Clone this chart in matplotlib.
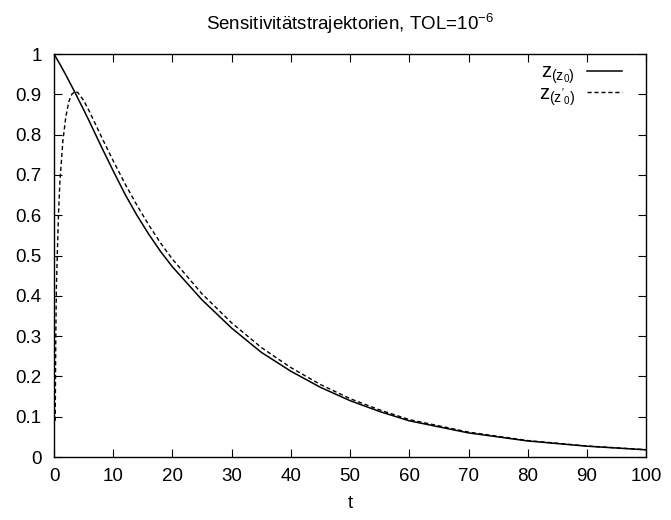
import matplotlib
matplotlib.use('Agg')
import matplotlib.pyplot as plt

plt.rcParams['font.family'] = ['Liberation Sans', 'DejaVu Sans']
plt.rcParams['mathtext.fontset'] = 'custom'
plt.rcParams['mathtext.rm'] = 'Liberation Sans'
plt.rcParams['mathtext.it'] = 'Liberation Sans'
plt.rcParams['mathtext.sf'] = 'Liberation Sans'

# sensitivity w.r.t. z0 (solid)
t_z0 = [0, 1, 2, 3, 3.5, 4, 5, 6, 8, 10, 12, 14, 16, 18, 20,
        25, 30, 35, 40, 45, 50, 55, 60, 70, 80, 90, 100]
s_z0 = [1.0, 0.975, 0.948, 0.92, 0.906, 0.891, 0.862, 0.832, 0.77, 0.71,
        0.652, 0.60, 0.553, 0.51, 0.472,
        0.39, 0.32, 0.26, 0.213, 0.173, 0.14, 0.113, 0.09, 0.06, 0.04, 0.027, 0.018]

# sensitivity w.r.t. z'0 (dashed)
t_dz0 = [0.2, 0.3, 0.4, 0.55, 0.75, 1.0, 1.5, 2.0, 2.5, 3.0, 3.5, 4.0, 5, 6, 8,
         10, 12, 14, 16, 18, 20, 25, 30, 35, 40, 45, 50, 55, 60, 70, 80, 90, 100]
s_dz0 = [0.09, 0.3, 0.42, 0.5, 0.6, 0.685, 0.785, 0.845, 0.882, 0.9, 0.907,
         0.905, 0.885, 0.857, 0.795, 0.735, 0.678, 0.625, 0.576, 0.531, 0.491,
         0.405, 0.333, 0.272, 0.222, 0.18, 0.145, 0.117, 0.093, 0.062, 0.041,
         0.0275, 0.0183]

xticks = list(range(0, 101, 10))
yticks = [0, 0.1, 0.2, 0.3, 0.4, 0.5, 0.6, 0.7, 0.8, 0.9, 1]
ytick_labels = ['0', '0.1', '0.2', '0.3', '0.4', '0.5', '0.6', '0.7', '0.8', '0.9', '1']

fig = plt.figure(figsize=(6.71, 5.2), dpi=100)
ax = fig.add_axes([0.0805, 0.121, 0.8825, 0.775])

ax.plot(t_z0, s_z0, color='black', linewidth=1.1, label=r'$\mathrm{z_{(z_0)}}$')
ax.plot(t_dz0, s_dz0, color='black', linewidth=1.0, linestyle=(0, (3, 2)),
        label=r"$\mathrm{z_{(z'_0)}}$")

ax.set_xlim(0, 100)
ax.set_ylim(0, 1)
ax.set_xticks(xticks)
ax.set_yticks(yticks)
ax.set_yticklabels(ytick_labels)
ax.tick_params(direction='in', top=True, right=True, length=6, width=0.8,
               labelsize=13.5)
ax.tick_params(axis='y', pad=9)
ax.tick_params(axis='x', pad=8)
for sp in ax.spines.values():
    sp.set_linewidth(1.0)

ax.set_xlabel('t', fontsize=13.5, labelpad=7)
ax.set_title(r'Sensitivitätstrajektorien, TOL=10$^{-6}$', fontsize=13.5, pad=17)

leg = ax.legend(loc='upper right', bbox_to_anchor=(0.975, 1.0), frameon=False,
                markerfirst=False, handlelength=1.75, fontsize=14.5,
                labelspacing=-0.1, borderaxespad=0.15, handletextpad=0.6,
                borderpad=0.3)

fig.savefig('out.png', dpi=100)
